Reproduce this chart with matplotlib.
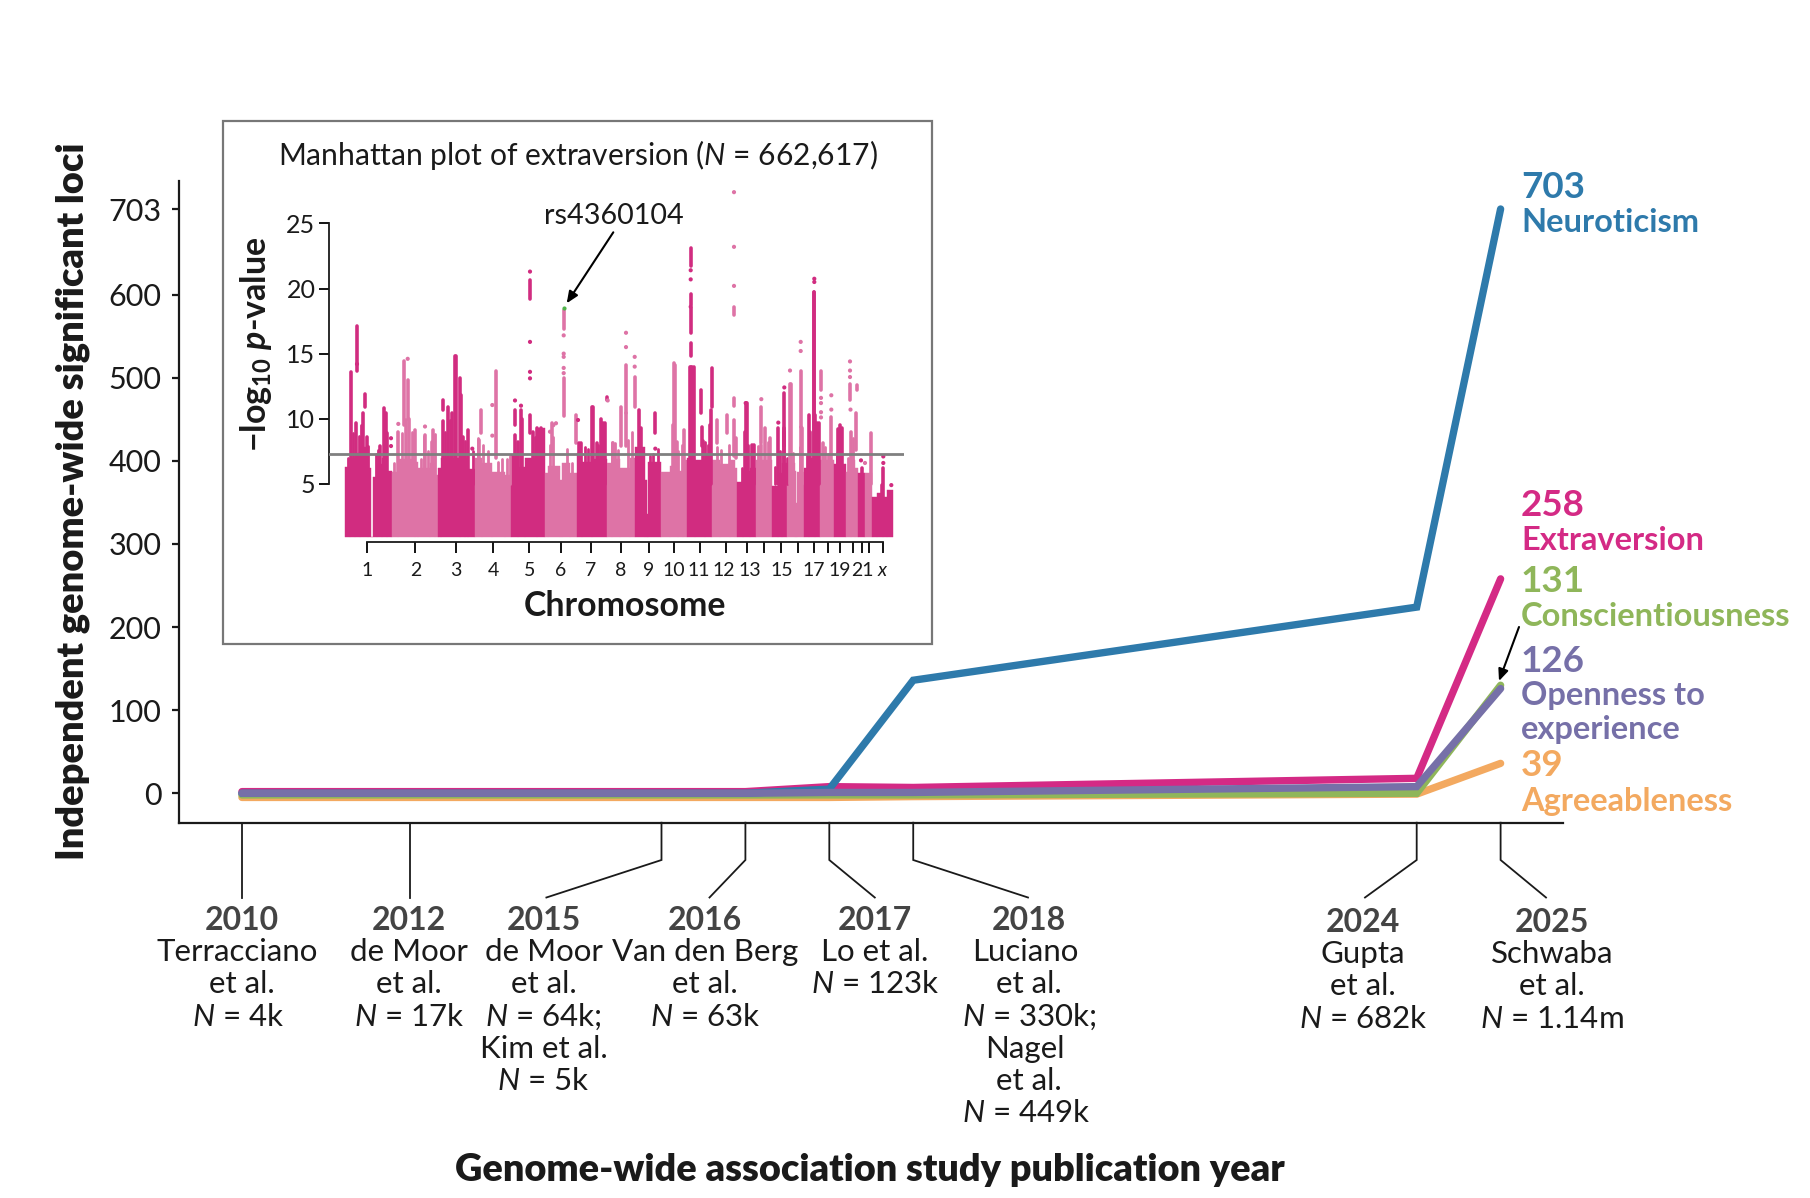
import matplotlib
matplotlib.use("Agg")
import matplotlib.pyplot as plt
import numpy as np
from matplotlib.patches import Rectangle

W, H = 1810, 1198
FONT = "Lato"
plt.rcParams["font.family"] = [FONT, "DejaVu Sans"]
plt.rcParams["mathtext.fontset"] = "custom"
plt.rcParams["mathtext.rm"] = FONT
plt.rcParams["mathtext.it"] = FONT + ":italic"
plt.rcParams["mathtext.bf"] = FONT + ":bold"
plt.rcParams["mathtext.bfit"] = FONT + ":italic:bold"

# main chart
years = [2010, 2012, 2015, 2016, 2017, 2018, 2024, 2025]
neuroticism = [0, 0, 0, 0, 5, 136, 224, 703]
extraversion = [2, 2, 2, 2, 8, 7, 18, 258]
conscientiousness = [-2, -2, -2, -2, -2, -2, 0, 130]
openness = [0, 0, 0, 0, 1, 1, 8, 126]
agreeableness = [-5, -5, -5, -5, -5, -4, -1, 36]
yticks_main = [0, 100, 200, 300, 400, 500, 600, 703]

year_labels = ["2010", "2012", "2015", "2016", "2017", "2018", "2024", "2025"]
study_labels = [
    ["Terracciano", "et al.", "$\\mathit{N}$ = 4k"],
    ["de Moor", "et al.", "$\\mathit{N}$ = 17k"],
    ["de Moor", "et al.", "$\\mathit{N}$ = 64k;", "Kim et al.", "$\\mathit{N}$ = 5k"],
    ["Van den Berg", "et al.", "$\\mathit{N}$ = 63k"],
    ["Lo et al.", "$\\mathit{N}$ = 123k"],
    ["Luciano", "et al.", "$\\mathit{N}$ = 330k;", "Nagel", "et al.", "$\\mathit{N}$ = 449k"],
    ["Gupta", "et al.", "$\\mathit{N}$ = 682k"],
    ["Schwaba", "et al.", "$\\mathit{N}$ = 1.14m"],
]

# inset: genome position runs along the chromosomes, values are -log10 p
chrom_edges = [0, 46.7, 92.7, 130, 166, 200, 232, 262.3, 290, 316, 341.7, 367.3,
               392.3, 410.7, 427, 442.3, 459.3, 475, 489.3, 500.7, 512.7, 519.7, 526.7, 548.3]
chrom_ticks = [22, 70.3, 111.3, 148, 184.3, 216, 245.7, 275.5, 303.8, 328.5, 354.5, 381,
               402, 419.2, 436.4, 453.2, 469, 483, 495, 508, 517, 523.8, 537.8]
chrom_labels = ["1", "2", "3", "4", "5", "6", "7", "8", "9", "10", "11", "12", "13", "", "15",
                "", "17", "", "19", "", "21", "", "$\\mathit{x}$"]

sky_pos = [0, 5, 10, 15, 23.3, 25.7, 27.7, 31.7, 36.7, 41.7,
           46.7, 53.3, 70, 73, 85, 90,
           92.7, 96, 115, 120, 123,
           130, 137, 147, 160,
           166, 173, 180, 192,
           200, 203.3, 215, 217, 225,
           232, 237, 247,
           262.3, 267, 275, 285,
           290, 300, 301.7, 303.3,
           316, 325, 333, 338,
           341.7, 350, 360,
           367.3, 375, 385, 390,
           392.3, 398, 405,
           410.7,
           427, 433, 437,
           442.3, 450, 451, 452,
           459.3, 464, 470,
           475,
           489.3,
           500.7, 506, 510,
           512.7,
           519.7,
           526.7, 531.7, 538, 542]
sky_val = [6.3, 7.0, 7.4, 7.8, 6.2, 0.94, 5.5, 6.5, 7.0, 6.0,
           5.9, 6.9, 6.7, 6.2, 6.6, 5.7,
           6.2, 7.0, 7.4, 7.0, 6.1,
           7.0, 6.6, 5.9, 5.7,
           7.2, 6.3, 7.0, 9.25,
           5.8, 6.4, 5.3, 6.6, 5.8,
           7.4, 6.7, 6.9,
           6.6, 6.9, 6.2, 7.0,
           7.8, 5.3, 2.7, 6.7,
           5.9, 6.4, 6.0, 6.8,
           7.0, 6.8, 7.2,
           6.8, 6.5, 6.8, 6.2,
           5.15, 6.0, 6.2,
           6.8,
           4.8, 5.8, 6.6,
           6.6, 6.0, 3.5, 5.9,
           6.2, 7.0, 7.2,
           6.8,
           6.5,
           5.9, 6.8, 6.2,
           5.8,
           5.8,
           4.0, 4.3, 4.0, 4.5]

# short columns that make the rough edge above the solid part
fringe_pos = [2.7, 8.3, 14, 16, 23.3, 30.7, 32.7,
              49.3, 56.7, 67.3, 69.3, 76, 79.3, 82.7, 90,
              100, 105, 120, 128.3, 133.3, 138.3, 143.3, 153.3, 156.7, 161.7, 165,
              190, 205, 208.3, 221.7, 226.7,
              240, 243.3, 253.3, 266.7, 270, 273.3, 283.3, 286.7,
              305, 308.3, 313.3, 333.3, 336.7, 360, 363.3,
              372, 376, 384, 396.7, 403.3, 413.3, 423.3, 430, 435, 441.7,
              448.3, 455, 461.7, 480, 483.3, 491.7, 503.3, 508.3]
fringe_top = [7.0, 8.9, 8.7, 9.5, 7.9, 7.3, 7.6,
              6.6, 8.9, 9.0, 8.9, 6.9, 8.7, 7.5, 8.8,
              9.0, 9.9, 8.3, 7.5, 8.5, 8.0, 7.5, 6.7, 6.9, 6.9, 7.1,
              8.6, 8.0, 8.6, 7.7, 6.6,
              7.8, 7.7, 8.0, 8.2, 8.1, 7.6, 8.4, 9.0,
              7.1, 7.3, 7.7, 7.5, 8.0, 8.2, 8.0,
              7.8, 7.6, 8.0, 6.2, 8.0, 7.9, 8.2, 6.3, 7.5, 7.0,
              7.4, 7.8, 7.2, 7.8, 7.3, 7.4, 7.0, 8.5]

# vertical runs of points: position, lower value, upper value
col_pos = [5.7, 12, 10.7, 18.3, 20, 21.7, 35, 39.3, 40.7, 41.7,
           53.3, 59.3, 60.7, 62.7, 64, 70, 80, 88.3, 86.7,
           97.7, 97.7, 103.3, 106.7, 110, 110.8, 115, 116, 118.3, 123.3,
           135.7, 134, 150.7, 170, 170, 172.7, 176, 177, 185, 185, 188.3,
           192, 196, 207, 218.7, 218.7, 231,
           234.3, 236, 246.7, 247.7, 251.7, 255.7, 258, 260, 262,
           268.3, 276, 281, 281, 289.7,
           294.3, 296, 310.3, 329, 330, 328, 339.3, 331.7,
           345.7, 345.7, 345.7, 345.7, 345.7, 345, 347, 349, 356, 356.5, 367, 366, 365, 358,
           371.7, 381.7, 389, 389, 389, 391,
           400.7, 401.7, 399.7, 407.3, 409,
           416.3, 416.3, 420, 425, 433.3, 439.3, 439.3, 438.5, 445, 446,
           455.7, 455.7, 457, 469.3, 469.3, 470, 464.3, 465, 476, 474, 472,
           486.3, 478.3, 495, 497, 493, 505, 505.5, 511.7, 511, 516.7, 526,
           538.3, 537]
col_low = [5, 13.7, 5, 5, 10.9, 5, 5, 5, 5, 5,
           5, 9.5, 5, 10, 5, 5, 5, 5, 5,
           10.7, 5, 5, 5, 5, 5, 5, 5, 5, 5,
           8.9, 5, 7, 9.5, 5, 5, 5, 5, 19.2, 8.9, 5,
           5, 5, 7.5, 10.2, 16.9, 8.1,
           5, 5, 5, 5, 5, 5, 5, 5, 11.4,
           5, 7.9, 10.4, 7.9, 10.9,
           5, 5, 8.9, 5, 5, 5, 5, 5,
           21.7, 18.7, 16.6, 14.8, 5, 5, 5, 5, 10.4, 7.9, 10.9, 5, 5, 5,
           8.1, 8.9, 7.1, 18, 11, 7,
           5, 5, 5, 5, 5,
           8.1, 5, 5, 5, 5, 7.9, 5, 5, 5, 5,
           9.4, 5, 5, 5, 5, 5, 5, 5, 12.2, 5, 5,
           5, 5, 5, 5, 5, 11.4, 5, 12.2, 7.6, 2, 5,
           2, 2]
col_high = [13.6, 17.1, 9.7, 10.4, 11.9, 8.6, 7.9, 10.8, 10.4, 8.9,
            9.0, 14.4, 9.9, 13, 10, 9.1, 8.75, 9.1, 8.2,
            11.4, 9.8, 10.9, 10.4, 14.8, 14.8, 13.1, 11.8, 8.6, 9.1,
            10.7, 8.4, 13.7, 10.7, 8.75, 8.2, 10.7, 10, 20.65, 10.3, 9,
            9.25, 9.25, 9.65, 13.1, 18.35, 10.3,
            8.1, 8.1, 10.9, 10.9, 8.1, 10, 9.65, 9.65, 11.7,
            8.1, 10.9, 14.1, 10.4, 13.2,
            10.7, 9.3, 10.4, 14.3, 14.1, 9.5, 9.1, 8.2,
            23.1, 19.6, 18.5, 15.8, 14, 14, 14, 14, 12.2, 9.4, 13.9, 10.7, 9.5, 8.3,
            9.9, 10.3, 9.9, 18.6, 11.6, 8.5,
            11.2, 11.2, 9, 8, 8,
            10.9, 8, 9.3, 8.5, 9.3, 12, 9.3, 9, 12.7, 12.7,
            13.7, 9.4, 9.3, 19.75, 19.75, 10.3, 10.3, 9, 13.7, 9.65, 9.65,
            10.15, 8.1, 9.5, 9.3, 9.2, 12.7, 9, 12.6, 10.4, 6.2, 8.9,
            6.2, 4.9]

# single points above the columns
dot_pos = [12, 53.3, 62.7, 80, 46, 46, 127.3, 147.3, 147.3, 170, 176, 185, 185, 185, 185,
           233, 262.7, 218.7, 218.7, 218.7, 218.7, 218.7, 281, 281, 289.7, 289.7, 310.3,
           345.7, 345.7, 345.7, 389, 389, 389, 400.7, 416.3, 433.3, 439.3, 445,
           455.7, 455.7, 469.3, 469.3, 476, 476, 476, 476, 486.3, 486.3, 505, 505, 505, 505.5,
           516, 520, 538.3, 538.3, 546.3, 211, 208.3, 205]
dot_val = [14.2, 9.6, 14.6, 9.4, 8.5, 7.9, 7.7, 11.05, 8.7, 11.4, 11, 21.3, 15.9, 13.6, 13.1,
           9.9, 11.4, 16.4, 15, 14.75, 13.9, 13.5, 16.6, 15.5, 14.75, 14, 7.7,
           21.4, 20.7, 18.6, 27.4, 23.2, 20.2, 11.2, 11.5, 9.7, 12.4, 13.7,
           15.9, 15.2, 20.75, 20.5, 11.6, 11.2, 10.5, 10.1, 11.8, 10.7, 14.4, 13.7, 13.2, 10.7,
           6.8, 6.6, 7.1, 6.6, 4.9, 9.65, 9.5, 9.0]

DARK = "#d12c80"
LIGHT = "#de73a6"


def chrom_color(p):
    return DARK if (np.searchsorted(chrom_edges, p, side="right") - 1) % 2 == 0 else LIGHT


fig = plt.figure(figsize=(W / 100, H / 100), dpi=100)


def rect(left, top, right, bottom):
    return [left / W, 1 - bottom / H, (right - left) / W, (bottom - top) / H]


# main axes
ax = fig.add_axes(rect(179, 181, 1562.7, 822.7))
ax.set_xlim(2009.25, 2025.74)
ax.set_ylim(-35.4, 736.7)
for sp in ["top", "right"]:
    ax.spines[sp].set_visible(False)
for sp in ["left", "bottom"]:
    ax.spines[sp].set_linewidth(1.6)
    ax.spines[sp].set_color("#1a1a1a")
ax.set_yticks(yticks_main)
ax.set_xticks([])
ax.tick_params(axis="y", length=5.4, width=1.6, labelsize=22, pad=7, color="#1a1a1a", labelcolor="#1a1a1a")
line_kw = dict(lw=5.3, solid_capstyle="round", solid_joinstyle="miter")
ax.plot(years, agreeableness, color="#f3a960", **line_kw)
ax.plot(years, conscientiousness, color="#8fb65a", **line_kw)
ax.plot(years, extraversion, color="#d42a85", **line_kw)
ax.plot(years, neuroticism, color="#2e7aab", **line_kw)
ax.plot(years, openness, color="#7670a8", **line_kw)

# overlay in picture pixels for labels and leaders
ov = fig.add_axes([0, 0, 1, 1])
ov.set_xlim(0, W)
ov.set_ylim(H, 0)
ov.axis("off")

ov.text(73, 501, "Independent genome-wide significant loci", rotation=90, ha="center", va="center",
        fontsize=27.4, fontweight="heavy", color="#1a1a1a")
ov.text(870, 1170, "Genome-wide association study publication year", ha="center", va="center",
        fontsize=27.3, fontweight="heavy", color="#1a1a1a")

label_x = [241.6, 409, 543.5, 705, 875, 1029, 1363, 1552]
leader_x = [None, None, 546.4, 709.5, 874.8, 1028, 1365, 1546]
# a few lines sit slightly left of their year in the reference
line_nudge = {(0, 0): -4, (0, 2): -3, (5, 0): -4, (5, 3): -4, (5, 5): -3}
for i, yr in enumerate(years):
    tx = ax.transData.transform((yr, 0))[0]
    end = tx if leader_x[i] is None else leader_x[i]
    ov.plot([tx, tx, end], [822.7, 860, 897.5], color="#1a1a1a", lw=1.3, solid_joinstyle="miter")
    y0 = 920 if yr < 2020 else 922
    ov.text(label_x[i], y0, year_labels[i], ha="center", va="center", fontsize=23, fontweight="bold", color="#444444")
    for j, s in enumerate(study_labels[i]):
        ov.text(label_x[i] + line_nudge.get((i, j), 0), y0 + 32 + 32.3 * j, s, ha="center", va="center",
                fontsize=22.5, color="#1a1a1a")

side_labels = [
    (1521, 188, "703", 26.5, "#2e7aab"), (1521, 223, "Neuroticism", 23.5, "#2e7aab"),
    (1521, 505, "258", 26.5, "#d42a85"), (1521, 541, "Extraversion", 23.5, "#d42a85"),
    (1521, 582, "131", 26.5, "#8fb65a"), (1521, 616, "Conscientiousness", 23.5, "#8fb65a"),
    (1521, 661, "126", 26.5, "#7670a8"), (1521, 696, "Openness to", 23.5, "#7670a8"),
    (1521, 730, "experience", 23.5, "#7670a8"),
    (1521, 766, "39", 26.5, "#f3a960"), (1521, 801, "Agreeableness", 23.5, "#f3a960"),
]
for x, y, s, fs, c in side_labels:
    ov.text(x, y, s, ha="left", va="center", fontsize=fs, fontweight="bold", color=c)
ov.annotate("", xy=(1499, 681), xytext=(1519, 627),
            arrowprops=dict(arrowstyle="-|>,head_width=0.3,head_length=0.7", color="black", lw=1.5, shrinkA=0, shrinkB=0))

# inset box
ov.add_patch(Rectangle((223, 121), 709, 523, facecolor="white", edgecolor="#777777", lw=1.6))
ov.text(578, 154.5, "Manhattan plot of extraversion ($\\mathit{N}$ = 662,617)", ha="center", va="center",
        fontsize=21.6, color="#1a1a1a")
ov.text(256, 344, "\u2212log$_{\\mathbf{10}}$ $\\mathbfit{p}$-value", rotation=90, ha="center", va="center",
        fontsize=24.5, fontweight="bold", color="#1a1a1a")
ov.text(624.6, 606, "Chromosome", ha="center", va="center", fontsize=24.4, fontweight="bold", color="#1a1a1a")
ov.text(614, 216.5, "rs4360104", ha="center", va="center", fontsize=20.7, color="#1a1a1a")

# manhattan
ins = fig.add_axes(rect(329.3, 185, 903.7, 542))
ins.patch.set_alpha(0)
ins.set_xlim(-15.7, 558.7)
ins.set_ylim(0.53, 27.95)

sky_pos_a = np.array(sky_pos)
sky_right = np.append(sky_pos_a[1:], chrom_edges[-1])
BASE = 0.94
ins.bar(sky_pos_a, np.array(sky_val) - BASE, width=sky_right - sky_pos_a, bottom=BASE, align="edge",
        color=[chrom_color(p + 0.01) for p in sky_pos], linewidth=0.3,
        edgecolor=[chrom_color(p + 0.01) for p in sky_pos], zorder=2)
ins.vlines(fringe_pos, 5, fringe_top, colors=[chrom_color(p) for p in fringe_pos], lw=2.0, capstyle="round", zorder=2)
ins.vlines(col_pos, col_low, col_high, colors=[chrom_color(p) for p in col_pos], lw=2.6, capstyle="round", zorder=2)
ins.scatter(dot_pos, dot_val, s=9, color=[chrom_color(p) for p in dot_pos], linewidths=0, zorder=2)
ins.scatter([218.7], [18.5], s=9, color="#4fb34a", linewidths=0, zorder=3)
ins.axhline(7.3, color="#808080", lw=2, zorder=4)

for sp in ["top", "right"]:
    ins.spines[sp].set_visible(False)
ins.spines["left"].set_bounds(5, 25)
ins.spines["bottom"].set_bounds(chrom_ticks[0], chrom_ticks[-1])
for sp in ["left", "bottom"]:
    ins.spines[sp].set_linewidth(1.3)
    ins.spines[sp].set_color("#1a1a1a")
ins.set_yticks([5, 10, 15, 20, 25])
ins.set_xticks(chrom_ticks)
ins.set_xticklabels([])
ins.tick_params(axis="y", length=7, width=1.3, labelsize=18, pad=3, labelcolor="#1a1a1a")
ins.tick_params(axis="x", length=7.7, width=1.3)

ov2 = fig.add_axes([0, 0, 1, 1])
ov2.set_xlim(0, W)
ov2.set_ylim(H, 0)
ov2.axis("off")
ov2.annotate("", xy=(566.7, 303.3), xytext=(613.3, 232.3),
             arrowprops=dict(arrowstyle="-|>,head_width=0.3,head_length=0.7", color="black", lw=1.5, shrinkA=0, shrinkB=0))

# chromosome numbers are tight, 12 and 13 get pushed apart a little
chrom_nudge = {"12": -2.5, "13": 2.5, "11": -1}
for p, lab in zip(chrom_ticks, chrom_labels):
    if lab:
        ov2.text(ins.transData.transform((p, 1))[0] + chrom_nudge.get(lab, 0), 570, lab,
                 ha="center", va="center", fontsize=14, color="#1a1a1a")

fig.savefig("out.png", dpi=100)
